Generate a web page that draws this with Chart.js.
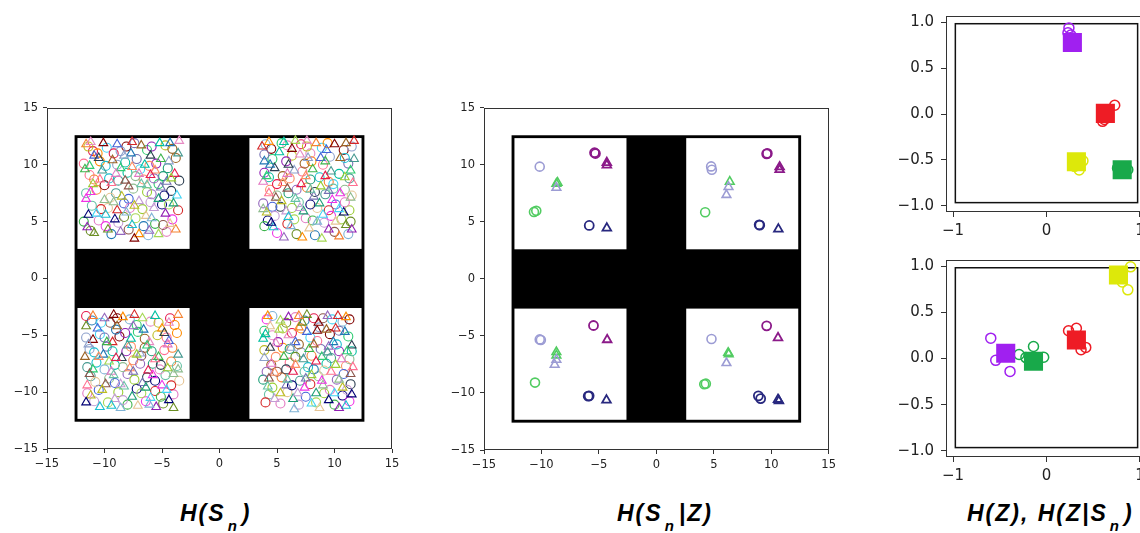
<!DOCTYPE html>
<html>
<head>
<meta charset="utf-8">
<script src="https://cdn.jsdelivr.net/npm/chart.js@4"></script>
<style>
  html, body { margin: 0; padding: 0; background: #fff; }
  body { width: 1140px; height: 533px; overflow: hidden; position: relative; }
  canvas { position: absolute; }
  .cap { position: absolute; top: 500px; font: italic bold 23px "Liberation Sans", Arial, sans-serif; color: #000; letter-spacing: 2px; white-space: nowrap; }
  .cap sub { font-size: 15px; vertical-align: -10px; margin: 0 3px 0 2px; }
</style>
</head>
<body>
<canvas id="c1" width="410" height="383" style="left:0px;top:96px"></canvas>
<canvas id="c2" width="400" height="384" style="left:440px;top:96px"></canvas>
<canvas id="c3" width="270" height="240" style="left:890px;top:0px"></canvas>
<canvas id="c4" width="270" height="241" style="left:890px;top:244px"></canvas>
<div class="cap" style="left:180px">H(S<sub>n</sub>)</div>
<div class="cap" style="left:617px">H(S<sub>n</sub>|Z)</div>
<div class="cap" style="left:967px">H(Z), H(Z|S<sub>n</sub>)</div>
<script>
// ---- data ----
// H(S_n): dense cloud of samples per quadrant
let hsCircles = [
  [-11.0,11.2],[-9.8,11.5],[-8.1,11.6],[-6.3,11.3],[-4.7,11.7],[-10.4,10.3],[-8.9,10.0],[-7.2,10.5],[-5.5,10.1],[-3.8,10.6],
  [-11.3,9.1],[-9.6,8.8],[-8.0,9.3],[-6.6,8.7],[-4.9,9.0],[-10.7,7.8],[-9.0,7.5],[-7.5,7.9],[-5.9,7.4],[-4.2,7.7],
  [-11.1,6.4],[-9.7,6.2],[-8.3,6.6],[-6.7,6.1],[-5.0,6.5],[-3.6,6.0],[-10.5,5.1],[-8.8,4.9],[-7.3,5.3],[-5.6,4.8],
  [-4.1,5.2],[-11.2,4.2],[-9.4,3.9],[-7.9,4.3],[-6.2,3.8],[-4.6,4.1],[-9.2,11.0],[-6.9,9.6],[-10.0,8.2],[-5.3,8.3],
  [-11.4,11.6],[-10.6,11.0],[-8.6,11.2],[-7.4,11.9],[-5.9,11.6],[-4.1,11.4],[-11.8,10.1],[-9.9,9.9],[-8.2,10.2],[-6.1,9.9],
  [-4.5,9.7],[-10.9,8.7],[-8.8,8.6],[-7.3,9.0],[-5.7,8.8],[-3.5,8.6],[-11.6,7.5],[-9.5,7.1],[-7.9,7.0],[-6.3,7.6],
  [-4.8,7.3],[-10.3,6.1],[-7.8,6.2],[-6.0,6.7],[-4.4,6.5],[-11.8,5.0],[-9.9,4.6],[-8.3,5.4],[-6.6,4.6],[-4.9,4.7],
  [4.0,11.8],[5.9,11.7],[7.1,11.8],[8.9,11.5],[10.8,11.3],[4.6,10.5],[6.3,10.8],[8.0,10.3],[9.6,10.7],[11.2,10.1],
  [3.9,9.3],[5.5,9.0],[7.2,9.4],[8.7,8.9],[10.4,9.2],[4.4,7.8],[6.0,7.5],[7.6,8.0],[9.2,7.4],[10.9,7.8],
  [3.8,6.6],[5.3,6.3],[6.9,6.7],[8.5,6.2],[10.1,6.5],[11.3,6.0],[4.2,5.1],[5.9,4.8],[7.5,5.3],[9.1,4.9],
  [10.6,5.2],[3.9,4.6],[5.0,4.0],[6.7,3.9],[8.3,3.8],[10.0,4.1],[11.2,3.9],[7.9,11.0],[5.0,8.3],[9.9,8.3],
  [4.5,11.4],[5.4,11.9],[7.6,11.6],[9.4,11.9],[11.5,11.6],[3.9,10.9],[5.8,10.3],[7.4,10.1],[9.0,10.0],[10.9,10.6],
  [4.3,8.9],[6.1,8.8],[7.9,8.7],[9.5,8.5],[11.3,8.8],[5.0,7.3],[6.7,7.8],[8.3,7.6],[9.9,7.9],[11.5,7.3],
  [4.6,6.3],[6.3,6.2],[7.9,6.5],[9.5,6.0],[10.9,6.7],[4.8,5.5],[6.5,5.2],[8.1,5.1],[9.7,5.5],[11.4,5.0],
  [-11.1,-3.7],[-9.5,-3.9],[-7.8,-3.6],[-6.0,-3.8],[-4.3,-3.5],[-10.4,-4.9],[-8.7,-5.1],[-7.1,-4.7],[-5.4,-5.0],[-3.7,-4.8],
  [-11.3,-6.2],[-9.8,-6.0],[-8.1,-6.4],[-6.5,-6.1],[-4.8,-6.3],[-10.7,-7.4],[-9.1,-7.6],[-7.5,-7.2],[-5.8,-7.5],[-4.2,-7.3],
  [-11.2,-8.6],[-9.6,-8.8],[-8.0,-8.4],[-6.3,-8.7],[-4.7,-8.5],[-3.5,-9.0],[-10.5,-9.8],[-8.8,-10.0],[-7.2,-9.7],[-5.6,-9.9],
  [-4.0,-10.2],[-10.9,-10.8],[-9.7,-10.9],[-8.0,-11.1],[-6.4,-10.8],[-4.9,-11.0],[-9.0,-4.5],[-6.8,-6.8],[-10.0,-8.0],[-5.2,-8.0],
  [-11.6,-3.3],[-10.3,-3.9],[-8.9,-3.5],[-7.2,-4.1],[-5.3,-3.9],[-3.9,-4.1],[-11.6,-5.2],[-10.0,-5.2],[-8.2,-4.8],[-6.5,-5.3],
  [-4.6,-5.2],[-10.9,-6.5],[-9.3,-6.4],[-7.7,-6.0],[-5.9,-6.4],[-4.1,-6.1],[-11.5,-7.8],[-8.4,-7.8],[-6.9,-7.5],[-5.1,-7.6],
  [-3.7,-7.7],[-10.8,-9.1],[-9.1,-9.2],[-7.4,-8.9],[-5.6,-9.0],[-4.2,-9.4],[-11.5,-10.1],[-8.4,-10.7],[-6.8,-10.1],[-5.1,-10.4],
  [4.1,-3.6],[5.8,-3.9],[7.4,-3.7],[9.0,-3.5],[10.7,-3.8],[4.6,-5.0],[6.3,-4.8],[7.9,-5.2],[9.6,-4.9],[11.2,-5.1],
  [3.9,-6.3],[5.5,-6.1],[7.1,-6.5],[8.8,-6.2],[10.4,-6.4],[4.5,-7.6],[6.1,-7.4],[7.7,-7.8],[9.3,-7.5],[11.0,-7.7],
  [3.8,-8.9],[5.4,-8.7],[7.0,-9.0],[8.6,-8.6],[10.2,-8.9],[11.4,-9.3],[4.3,-10.2],[5.9,-10.0],[7.5,-10.4],[9.1,-10.1],
  [10.7,-10.3],[4.0,-10.9],[5.3,-11.0],[6.9,-11.1],[8.4,-10.9],[10.0,-11.1],[11.3,-10.8],[6.6,-6.9],[8.2,-8.0],[5.0,-8.2],
  [4.6,-3.3],[6.6,-3.4],[8.2,-3.5],[9.8,-3.6],[11.3,-3.6],[3.9,-4.6],[5.5,-4.4],[7.1,-4.4],[8.7,-4.3],[10.4,-4.6],
  [5.1,-5.6],[6.9,-5.8],[8.5,-5.5],[10.2,-5.8],[11.5,-6.4],[4.9,-6.9],[6.1,-6.2],[8.0,-6.8],[9.7,-7.0],[11.3,-7.1],
  [4.1,-8.2],[5.8,-8.0],[7.4,-8.2],[9.1,-8.1],[10.8,-8.4],[4.6,-9.6],[6.3,-9.4],[7.9,-9.3],[9.6,-9.8],[11.1,-9.8]
];
let hsTriangles = [
  [-11.6,11.8],[-10.1,11.9],[-7.6,12.0],[-5.2,11.9],[-3.5,12.1],[-10.9,10.8],[-9.3,10.4],[-7.7,11.0],[-6.0,10.8],[-4.4,10.3],
  [-11.7,9.6],[-10.2,9.5],[-8.6,9.7],[-7.0,9.2],[-5.6,9.5],[-3.9,9.2],[-11.0,8.3],[-9.4,8.4],[-7.9,8.1],[-6.3,8.2],
  [-4.6,8.5],[-11.6,7.0],[-10.0,6.9],[-8.5,7.2],[-7.0,6.8],[-5.3,7.0],[-3.7,7.3],[-11.4,5.6],[-9.9,5.6],[-8.1,5.8],
  [-6.4,5.5],[-4.7,5.7],[-10.9,4.0],[-8.6,4.1],[-7.0,3.9],[-5.3,3.9],[-3.8,4.3],[-7.4,3.5],[-8.9,6.0],[-6.5,10.0],
  [-11.2,12.0],[-8.9,11.8],[-6.8,11.7],[-4.3,11.9],[-10.5,10.6],[-8.3,10.8],[-5.1,10.5],[-3.6,11.0],[-11.3,9.9],[-9.0,9.2],
  [-7.6,9.8],[-6.0,9.1],[-4.2,8.8],[-10.4,8.7],[-8.2,8.6],[-6.8,8.3],[-5.1,8.0],[-11.2,7.6],[-9.2,6.7],[-7.4,6.4],
  [-5.7,6.2],[-4.0,6.6],[-10.7,5.7],[-9.1,5.2],[-7.6,4.7],[-5.9,5.3],[-4.3,4.8],[-11.5,4.5],[-9.7,4.3],[-6.1,4.2],
  [4.3,12.0],[6.6,12.1],[8.4,11.9],[10.0,11.8],[11.7,12.1],[5.2,11.1],[7.0,10.9],[8.8,10.6],[10.5,10.6],[3.9,10.3],
  [4.8,9.7],[6.5,9.5],[8.1,9.6],[9.7,9.4],[11.4,9.5],[3.8,8.5],[5.5,8.4],[7.1,8.3],[8.8,8.1],[11.6,8.4],
  [4.9,7.1],[6.6,7.0],[8.2,7.2],[9.8,6.9],[11.4,7.1],[4.1,5.8],[5.8,5.9],[7.3,5.9],[9.0,5.6],[10.8,5.8],
  [4.7,4.5],[6.2,4.6],[7.8,4.4],[9.5,4.3],[11.0,4.7],[5.6,3.6],[7.2,3.6],[8.9,3.5],[10.4,3.7],[6.3,11.4],
  [3.7,11.6],[5.6,12.0],[7.6,12.1],[9.3,11.3],[11.0,11.9],[4.4,10.0],[6.0,10.0],[7.7,10.6],[9.2,10.3],[11.7,10.5],
  [4.1,9.0],[5.9,9.2],[7.5,9.0],[9.2,9.0],[10.9,8.9],[4.3,7.5],[5.9,7.9],[7.9,7.8],[9.5,7.7],[10.5,7.5],
  [3.8,6.1],[5.4,6.8],[7.0,6.2],[8.7,6.6],[10.4,6.1],[4.5,4.9],[6.0,5.4],[8.5,5.0],[10.1,5.0],[11.5,4.3],
  [-11.6,-4.2],[-10.0,-3.5],[-8.4,-3.4],[-6.7,-3.5],[-3.6,-3.2],[-11.0,-5.4],[-9.3,-5.6],[-7.7,-5.3],[-6.1,-5.6],[-4.4,-5.5],
  [-11.7,-6.9],[-10.1,-6.7],[-8.5,-7.0],[-6.9,-6.6],[-5.3,-6.9],[-3.6,-6.7],[-11.0,-8.0],[-9.4,-8.2],[-7.8,-7.9],[-6.2,-8.1],
  [-4.5,-7.9],[-11.5,-9.4],[-9.9,-9.3],[-8.3,-9.5],[-6.7,-9.2],[-5.0,-9.4],[-3.6,-8.0],[-11.2,-10.3],[-9.1,-10.6],[-7.6,-10.4],
  [-6.0,-10.5],[-4.4,-10.7],[-10.4,-11.3],[-8.6,-11.4],[-7.1,-11.2],[-5.5,-11.3],[-4.0,-11.4],[-7.5,-4.2],[-5.0,-4.4],[-9.6,-7.3],
  [-11.0,-3.3],[-9.2,-3.2],[-7.4,-3.2],[-5.6,-3.3],[-4.4,-3.9],[-10.6,-4.4],[-8.9,-4.2],[-6.6,-4.5],[-4.8,-4.8],[-11.4,-5.8],
  [-9.8,-5.6],[-8.0,-5.9],[-6.3,-5.9],[-4.5,-5.8],[-10.5,-6.9],[-9.0,-7.0],[-7.2,-6.7],[-5.6,-7.1],[-11.3,-8.4],[-9.2,-8.5],
  [-7.5,-8.2],[-5.8,-8.5],[-4.0,-8.4],[-10.2,-9.8],[-8.6,-9.3],[-6.4,-9.6],[-4.6,-9.8],[-11.6,-10.9],[-9.4,-11.2],[-6.1,-11.1],
  [4.4,-4.2],[6.0,-3.4],[7.6,-3.2],[9.4,-3.3],[11.0,-3.4],[5.2,-4.5],[6.9,-4.3],[8.5,-4.6],[10.1,-4.4],[3.8,-5.3],
  [4.9,-5.7],[6.6,-5.6],[8.2,-5.8],[9.9,-5.6],[11.5,-5.9],[3.9,-7.0],[5.6,-6.9],[7.3,-7.1],[8.9,-6.9],[10.6,-7.1],
  [4.8,-8.3],[6.4,-8.2],[8.0,-8.5],[9.7,-8.2],[11.4,-8.4],[4.2,-9.5],[5.8,-9.4],[7.4,-9.6],[9.0,-9.4],[10.7,-9.6],
  [4.8,-10.6],[6.4,-10.6],[8.0,-11.0],[9.5,-10.7],[11.0,-11.2],[6.5,-11.5],[8.7,-11.4],[10.4,-11.4],[7.2,-3.9],[9.5,-6.0],
  [4.2,-3.3],[5.3,-3.7],[6.9,-3.3],[8.6,-3.9],[10.3,-3.3],[4.0,-4.9],[6.0,-5.0],[7.6,-4.7],[9.3,-4.5],[10.9,-4.7],
  [4.4,-6.1],[6.2,-6.1],[7.8,-6.2],[9.4,-6.5],[11.1,-6.4],[4.5,-7.5],[6.6,-7.6],[8.4,-7.3],[10.1,-7.6],[11.6,-7.8],
  [4.3,-8.8],[5.9,-8.9],[7.5,-8.8],[8.9,-9.0],[10.4,-8.9],[5.3,-10.1],[6.8,-10.1],[8.4,-10.1],[10.0,-10.1],[11.5,-10.2]
];

// H(S_n|Z): a few samples per code, grouped by colour
let lavCircles  = [[-10.15,9.85],[4.77,9.87],[4.83,9.58],[-10.15,-5.3],[-10.05,-5.35],[4.8,-5.27]];
let lavTris     = [[-8.7,8.0],[6.28,8.07],[6.1,7.37],[-8.7,-7.08],[-8.85,-7.52],[6.1,-7.37]];
let purCircles  = [[-5.38,11.07],[-5.3,11.0],[9.66,11.01],[9.6,10.97],[-5.47,-4.08],[9.6,-4.11]];
let purTris     = [[-4.31,9.99],[-4.31,10.2],[10.73,9.82],[10.73,9.58],[-4.28,-5.33],[10.59,-5.16]];
let grnCircles  = [[-10.65,5.88],[-10.45,5.97],[4.25,5.85],[-10.56,-9.09],[4.17,-9.23],[4.31,-9.18]];
let grnTris     = [[-8.7,8.36],[-8.6,8.45],[6.39,8.53],[-8.7,-6.41],[-8.7,-6.7],[6.25,-6.47],[6.3,-6.6]];
let navCircles  = [[-5.84,4.69],[9.0,4.72],[8.95,4.75],[-5.93,-10.28],[-5.85,-10.25],[8.88,-10.25],[9.08,-10.49]];
let navTris     = [[-4.31,4.46],[10.62,4.37],[-4.34,-10.63],[10.59,-10.57],[10.67,-10.69]];

// H(Z) (top) and H(Z|S_n) (bottom): codes (squares) and samples (circles)
let zNames = ['purple', 'red', 'yellow', 'green'];
let topCodes   = [[0.277,0.779],[0.63,0.007],[0.32,-0.52],[0.81,-0.607]];
let topSamples = [
  [[0.24,0.937],[0.23,0.884],[0.26,0.86]],
  [[0.73,0.095],[0.6,-0.08],[0.596,-0.03],[0.62,-0.06]],
  [[0.39,-0.51],[0.35,-0.61],[0.30,-0.57],[0.33,-0.5]],
  [[0.87,-0.607],[0.76,-0.59],[0.84,-0.58]]
];
let botCodes   = [[-0.436,0.057],[0.32,0.2],[0.77,0.904],[-0.139,-0.03]];
let botSamples = [
  [[-0.596,0.22],[-0.543,-0.02],[-0.39,-0.14]],
  [[0.236,0.3],[0.32,0.327],[0.37,0.096],[0.42,0.12]],
  [[0.9,0.993],[0.87,0.744],[0.81,0.83]],
  [[-0.139,0.13],[-0.293,0.043],[-0.03,0.014],[-0.22,0.01]]
];

// black cross with four white boxes, and the inner frame of the right plots
let crossOuter = [-12.6, 12.6];
let whiteBoxes = [[-12.35,-2.6,2.6,12.35],[2.6,12.35,2.6,12.35],[-12.35,-2.6,-12.35,-2.6],[2.6,12.35,-12.35,-2.6]];
let innerFrame = [-0.975, 0.975, -0.965, 0.983];

// ---- styling ----
let cloudPalette = ['#e6194b','#3cb44b','#4363d8','#f58231','#911eb4','#42d4f4','#f032e6','#9acd32',
  '#469990','#9a6324','#800000','#6b8e23','#000075','#8fbc8f','#ff6f91','#2ecc71','#1f77b4','#d62728',
  '#9467bd','#17becf','#bcbd22','#8c564b','#e377c2','#2c3e50','#00bfa0','#ff8c00','#7fb3d5','#c39bd3',
  '#66c2a5','#fc8d62','#8da0cb','#e78ac3','#a6d854','#e5c494','#1b9e77','#7570b3'];
let zColors = { purple: '#a020f0', red: '#ee1c25', yellow: '#dde80a', green: '#18a94a' };

const minus = s => String(s).replace('-', '\u2212');
const pts = arr => arr.map(p => ({ x: p[0], y: p[1] }));

const framePlugin = {
  id: 'frame',
  beforeDatasetsDraw(chart, args, opts) {
    const { ctx, scales: { x, y } } = chart;
    ctx.save();
    if (opts.cross) {
      ctx.fillStyle = '#000';
      const a = x.getPixelForValue(crossOuter[0]), b = x.getPixelForValue(crossOuter[1]);
      const c = y.getPixelForValue(crossOuter[1]), d = y.getPixelForValue(crossOuter[0]);
      ctx.fillRect(a, c, b - a, d - c);
      ctx.fillStyle = '#fff';
      whiteBoxes.forEach(r => {
        const x0 = x.getPixelForValue(r[0]), x1 = x.getPixelForValue(r[1]);
        const y0 = y.getPixelForValue(r[3]), y1 = y.getPixelForValue(r[2]);
        ctx.fillRect(x0, y0, x1 - x0, y1 - y0);
      });
    }
    if (opts.inner) {
      const x0 = x.getPixelForValue(innerFrame[0]), x1 = x.getPixelForValue(innerFrame[1]);
      const y0 = y.getPixelForValue(innerFrame[3]), y1 = y.getPixelForValue(innerFrame[2]);
      ctx.strokeStyle = '#111';
      ctx.lineWidth = 1.5;
      ctx.strokeRect(x0, y0, x1 - x0, y1 - y0);
    }
    const ca = chart.chartArea;
    ctx.strokeStyle = '#333';
    ctx.lineWidth = 1;
    ctx.strokeRect(Math.round(ca.left) + 0.5, Math.round(ca.top) + 0.5,
      Math.round(ca.right - ca.left) - 1, Math.round(ca.bottom - ca.top) - 1);
    ctx.restore();
  }
};

function axis(min, max, step, size, pad, tl, fmt, fit) {
  return {
    type: 'linear', min: min, max: max,
    border: { display: false },
    grid: { drawOnChartArea: false, drawTicks: true, tickLength: tl, tickColor: '#333', lineWidth: 1 },
    ticks: { stepSize: step, includeBounds: false, color: '#222', padding: pad,
      font: { family: 'DejaVu Sans', size: size }, callback: v => minus(fmt(v)) },
    afterFit: fit
  };
}

function makeChart(id, datasets, xa, ya, padding, plug) {
  return new Chart(document.getElementById(id), {
    type: 'scatter',
    data: { datasets: datasets },
    options: {
      responsive: false, animation: false, devicePixelRatio: 1,
      layout: { padding: padding },
      plugins: { legend: { display: false }, tooltip: { enabled: false }, frame: plug },
      scales: { x: xa, y: ya }
    },
    plugins: [framePlugin]
  });
}

function hollow(data, color, style, r, w) {
  return { data: pts(data), pointStyle: style, pointRadius: r, pointBorderWidth: w,
    pointBorderColor: color, pointBackgroundColor: 'rgba(0,0,0,0)', showLine: false };
}

// left panel
makeChart('c1', [
  hollow(hsTriangles, hsTriangles.map((p, i) => cloudPalette[(i * 7 + 3) % cloudPalette.length]), 'triangle', 5, 1.1),
  hollow(hsCircles, hsCircles.map((p, i) => cloudPalette[(i * 5) % cloudPalette.length]), 'circle', 4.5, 1.1)
],
  axis(-15, 15, 5, 11.5, 4, 4, v => v, s => { s.height = 30; }),
  axis(-15, 15, 5, 11.5, 5, 4, v => v, s => { s.width = 47; }),
  { top: 10, right: 18, left: 0, bottom: 0 }, { cross: true });

// middle panel
makeChart('c2', [
  hollow(lavCircles, '#9c9cd4', 'circle', 4.5, 1.6),
  hollow(lavTris, '#9c9cd4', 'triangle', 5, 1.6),
  hollow(purCircles, '#8b1a89', 'circle', 4.5, 1.8),
  hollow(purTris, '#8b1a89', 'triangle', 5, 1.8),
  hollow(grnCircles, '#52cc62', 'circle', 4.5, 1.6),
  hollow(grnTris, '#52cc62', 'triangle', 5, 1.6),
  hollow(navCircles, '#28287f', 'circle', 4.5, 1.8),
  hollow(navTris, '#28287f', 'triangle', 5, 1.8)
],
  axis(-15, 15, 5, 11.5, 4, 4, v => v, s => { s.height = 30; }),
  axis(-15, 15, 5, 11.5, 5, 4, v => v, s => { s.width = 44; }),
  { top: 11, right: 10, left: 0, bottom: 0 }, { cross: true });

function zSets(codes, samples) {
  const sq = zNames.map((n, i) => ({ data: pts([codes[i]]), pointStyle: 'rect', pointRadius: 13.5,
    pointBorderWidth: 0, pointBackgroundColor: zColors[n], pointBorderColor: zColors[n] }));
  const ci = zNames.map((n, i) => hollow(samples[i], zColors[n], 'circle', 5, 1.5));
  return sq.concat(ci);
}

// right panels
makeChart('c3', zSets(topCodes, topSamples),
  axis(-1.075, 1.07, 1, 15, 5, 5, v => Math.round(v), s => { s.height = 28; }),
  axis(-1.067, 1.067, 0.5, 15, 7, 5, v => v.toFixed(1), s => { s.width = 56; }),
  { top: 9, right: 13, left: 0, bottom: 0 }, { inner: true });

makeChart('c4', zSets(botCodes, botSamples),
  axis(-1.075, 1.07, 1, 15, 5, 5, v => Math.round(v), s => { s.height = 28; }),
  axis(-1.067, 1.067, 0.5, 15, 7, 5, v => v.toFixed(1), s => { s.width = 56; }),
  { top: 9, right: 13, left: 0, bottom: 0 }, { inner: true });
</script>
</body>
</html>
